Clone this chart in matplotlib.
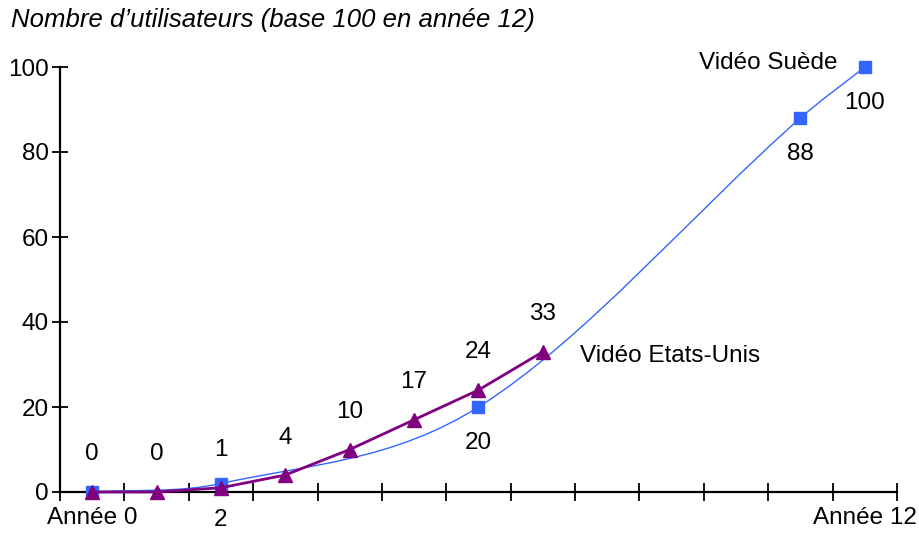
import numpy as np
import matplotlib
matplotlib.use("Agg")
import matplotlib.pyplot as plt
from matplotlib.path import Path
from matplotlib.patches import PathPatch
from matplotlib.ticker import FixedLocator, NullFormatter, FixedFormatter

plt.rcParams['font.family'] = ['Liberation Sans', 'DejaVu Sans']

# ---- data ----
title = "Nombre d\u2019utilisateurs (base 100 en ann\u00e9e 12)"
years = list(range(13))
x_tick_labels = {0: "Ann\u00e9e 0", 12: "Ann\u00e9e 12"}
y_ticks = [0, 20, 40, 60, 80, 100]

us_x = [0, 1, 2, 3, 4, 5, 6, 7]
us_values = [0, 0, 1, 4, 10, 17, 24, 33]
us_labels = ["0", "0", "1", "4", "10", "17", "24", "33"]
us_name = "Vid\u00e9o Etats-Unis"

se_x = [0, 2, 6, 11, 12]
se_values = [0, 2, 20, 88, 100]
se_labels = ["", "2", "20", "88", "100"]
se_name = "Vid\u00e9o Su\u00e8de"

BLUE = "#3366ff"
PURPLE = "#800080"
FS = 17.5

fig = plt.figure(figsize=(9.2, 5.33), dpi=100)
ax = fig.add_axes([60/920, 41/533, 837/920, 425/533])
ax.set_xlim(-0.5, 12.5)
ax.set_ylim(0, 100)

# smooth curve (x-based cubic Hermite rendered as Bezier path)
def smooth_path(xs, ys):
    xs = np.asarray(xs, float); ys = np.asarray(ys, float)
    n = len(xs)
    m = np.zeros(n)
    for i in range(n):
        if i == 0:
            m[i] = (ys[1]-ys[0])/(xs[1]-xs[0])
        elif i == n-1:
            m[i] = (ys[-1]-ys[-2])/(xs[-1]-xs[-2])
        else:
            m[i] = (ys[i+1]-ys[i-1])/(xs[i+1]-xs[i-1])
    verts = [(xs[0], ys[0])]
    codes = [Path.MOVETO]
    for i in range(n-1):
        dx = (xs[i+1]-xs[i])/3
        verts += [(xs[i]+dx, ys[i]+m[i]*dx), (xs[i+1]-dx, ys[i+1]-m[i+1]*dx), (xs[i+1], ys[i+1])]
        codes += [Path.CURVE4]*3
    return Path(verts, codes)

ax.add_patch(PathPatch(smooth_path(se_x, se_values), fill=False, edgecolor=BLUE, lw=1.0, zorder=3, clip_on=False))
ax.plot(se_x, se_values, ls='none', marker='s', ms=8, color=BLUE, zorder=4, clip_on=False)
ax.plot(us_x, us_values, '-', color=PURPLE, lw=2, marker='^', ms=10, zorder=5, clip_on=False)

for x, v, l in zip(us_x, us_values, us_labels):
    ax.annotate(l, (x, v), xytext=(0, 27), textcoords='offset points', ha='center', va='center', fontsize=FS)
for x, v, l in zip(se_x, se_values, se_labels):
    if l:
        ax.annotate(l, (x, v), xytext=(0, -26), textcoords='offset points', ha='center', va='center', fontsize=FS)

ax.annotate(se_name, (se_x[-1], se_values[-1]), xytext=(-20, 3), textcoords='offset points', ha='right', va='center', fontsize=FS)
ax.annotate(us_name, (us_x[-1], us_values[-1]), xytext=(27, -3), textcoords='offset points', ha='left', va='center', fontsize=FS)

# axes styling
for s in ['top', 'right']:
    ax.spines[s].set_visible(False)
for s in ['left', 'bottom']:
    ax.spines[s].set_linewidth(1.6)
ax.set_yticks(y_ticks)
ax.set_yticklabels([str(t) for t in y_ticks])
ax.tick_params(axis='y', direction='inout', length=12, width=1.3, labelsize=FS, pad=2)
ax.xaxis.set_major_locator(FixedLocator(np.arange(-0.5, 13, 1)))
ax.xaxis.set_major_formatter(NullFormatter())
ax.xaxis.set_minor_locator(FixedLocator(list(x_tick_labels.keys())))
ax.xaxis.set_minor_formatter(FixedFormatter(list(x_tick_labels.values())))
ax.tick_params(axis='x', which='major', direction='inout', length=13, width=1.3)
ax.tick_params(axis='x', which='minor', length=0, labelsize=FS, pad=11)

fig.text(11/920, 1 - 20/533, title, fontsize=18.5, style='italic', ha='left', va='center')

fig.savefig("out.png", dpi=100)
